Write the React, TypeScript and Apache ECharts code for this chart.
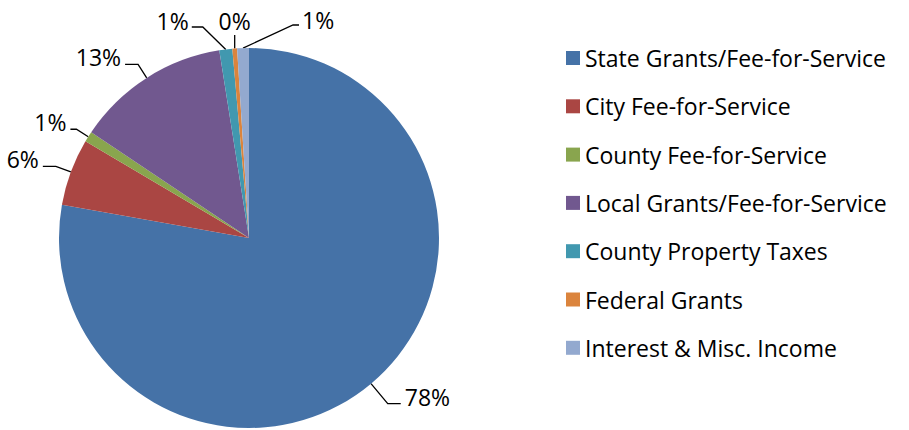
import React, { useEffect, useRef } from "react";
import * as echarts from "echarts";

const categories = [
  "State Grants/Fee-for-Service",
  "City Fee-for-Service",
  "County Fee-for-Service",
  "Local Grants/Fee-for-Service",
  "County Property Taxes",
  "Federal Grants",
  "Interest & Misc. Income",
];
const values = [77.8, 5.7, 0.9, 13.1, 1.1, 0.4, 1.0];
const colors = ["#4572A7", "#AA4643", "#89A54E", "#71588F", "#4198AF", "#DB843D", "#93A9CF"];

// label leader-line layout (radial reach per slice, px)
const leaderReach = [26, 16, 14, 16, 0, 0, 0];
const leaderTail = [13, 13, 6, 13, 0, 0, 0];

const FONT = "Open Sans";
const CENTER: [number, number] = [249, 238];
const RADIUS = 190;

export default function App() {
  const ref = useRef<HTMLDivElement>(null);
  useEffect(() => {
    document.body.style.margin = "0";
    const chart = echarts.init(ref.current!, null, { renderer: "svg" });
    const [cx, cy] = CENTER;
    const rowY = cy - RADIUS - 23;
    const n = values.length;
    chart.setOption({
      animation: false,
      color: colors,
      legend: {
        orient: "vertical",
        left: 561,
        top: 41,
        itemWidth: 14,
        itemHeight: 14,
        itemGap: 24.3,
        icon: "rect",
        textStyle: { fontFamily: FONT, fontSize: 23, lineHeight: 24, color: "#000" },
        data: categories,
      },
      series: [
        {
          type: "pie",
          center: CENTER,
          radius: RADIUS,
          startAngle: 90,
          clockwise: true,
          data: categories.map((c, i) => ({ name: c, value: values[i] })),
          label: {
            show: true,
            position: "outside",
            fontFamily: FONT,
            fontSize: 23,
            color: "#000",
            overflow: "none",
            formatter: (p: any) => Math.round(p.percent) + "%",
          },
          labelLine: {
            show: true,
            length: 20,
            length2: 10,
            lineStyle: { color: "#000", width: 1.3 },
          },
          labelLayout: (p: any) => {
            const pts = p.labelLinePoints;
            if (!pts) return {};
            const [x0, y0] = pts[0];
            const ux = (x0 - cx) / RADIUS;
            const uy = (y0 - cy) / RADIUS;
            const deg = (Math.atan2(ux, -uy) * 180) / Math.PI;
            if (Math.abs(deg) < 12) {
              // slices crowded at the top: labels in a row above the pie
              if (p.dataIndex === n - 2) {
                return {
                  x: x0,
                  y: rowY - 4,
                  align: "center",
                  verticalAlign: "middle",
                  labelLinePoints: [[x0, y0], [x0, rowY + 10], [x0, rowY + 10]],
                };
              }
              if (p.dataIndex < n - 2) {
                const x1 = x0 - 23;
                const x2 = x1 - 11;
                return {
                  x: x2 - 3,
                  y: rowY - 4,
                  align: "right",
                  verticalAlign: "middle",
                  labelLinePoints: [[x0, y0], [x1, rowY + 2], [x2, rowY + 2]],
                };
              }
              const x1 = x0 + 50;
              const x2 = x1 + 6;
              return {
                x: x2 + 3,
                y: rowY - 5,
                align: "left",
                verticalAlign: "middle",
                labelLinePoints: [[x0, y0], [x1, rowY], [x2, rowY]],
              };
            }
            const L1 = leaderReach[p.dataIndex];
            const x1 = x0 + ux * L1;
            const y1 = y0 + uy * L1;
            const side = ux >= 0 ? 1 : -1;
            const x2 = x1 + side * leaderTail[p.dataIndex];
            return {
              x: x2 + side * 4,
              y: y1 - 7,
              align: side > 0 ? "left" : "right",
              verticalAlign: "middle",
              labelLinePoints: [[x0, y0], [x1, y1], [x2, y1]],
            };
          },
          itemStyle: { borderWidth: 0 },
          emphasis: { disabled: true },
        },
      ],
    });
    return () => chart.dispose();
  }, []);
  return <div ref={ref} style={{ width: 909, height: 430 }} />;
}
